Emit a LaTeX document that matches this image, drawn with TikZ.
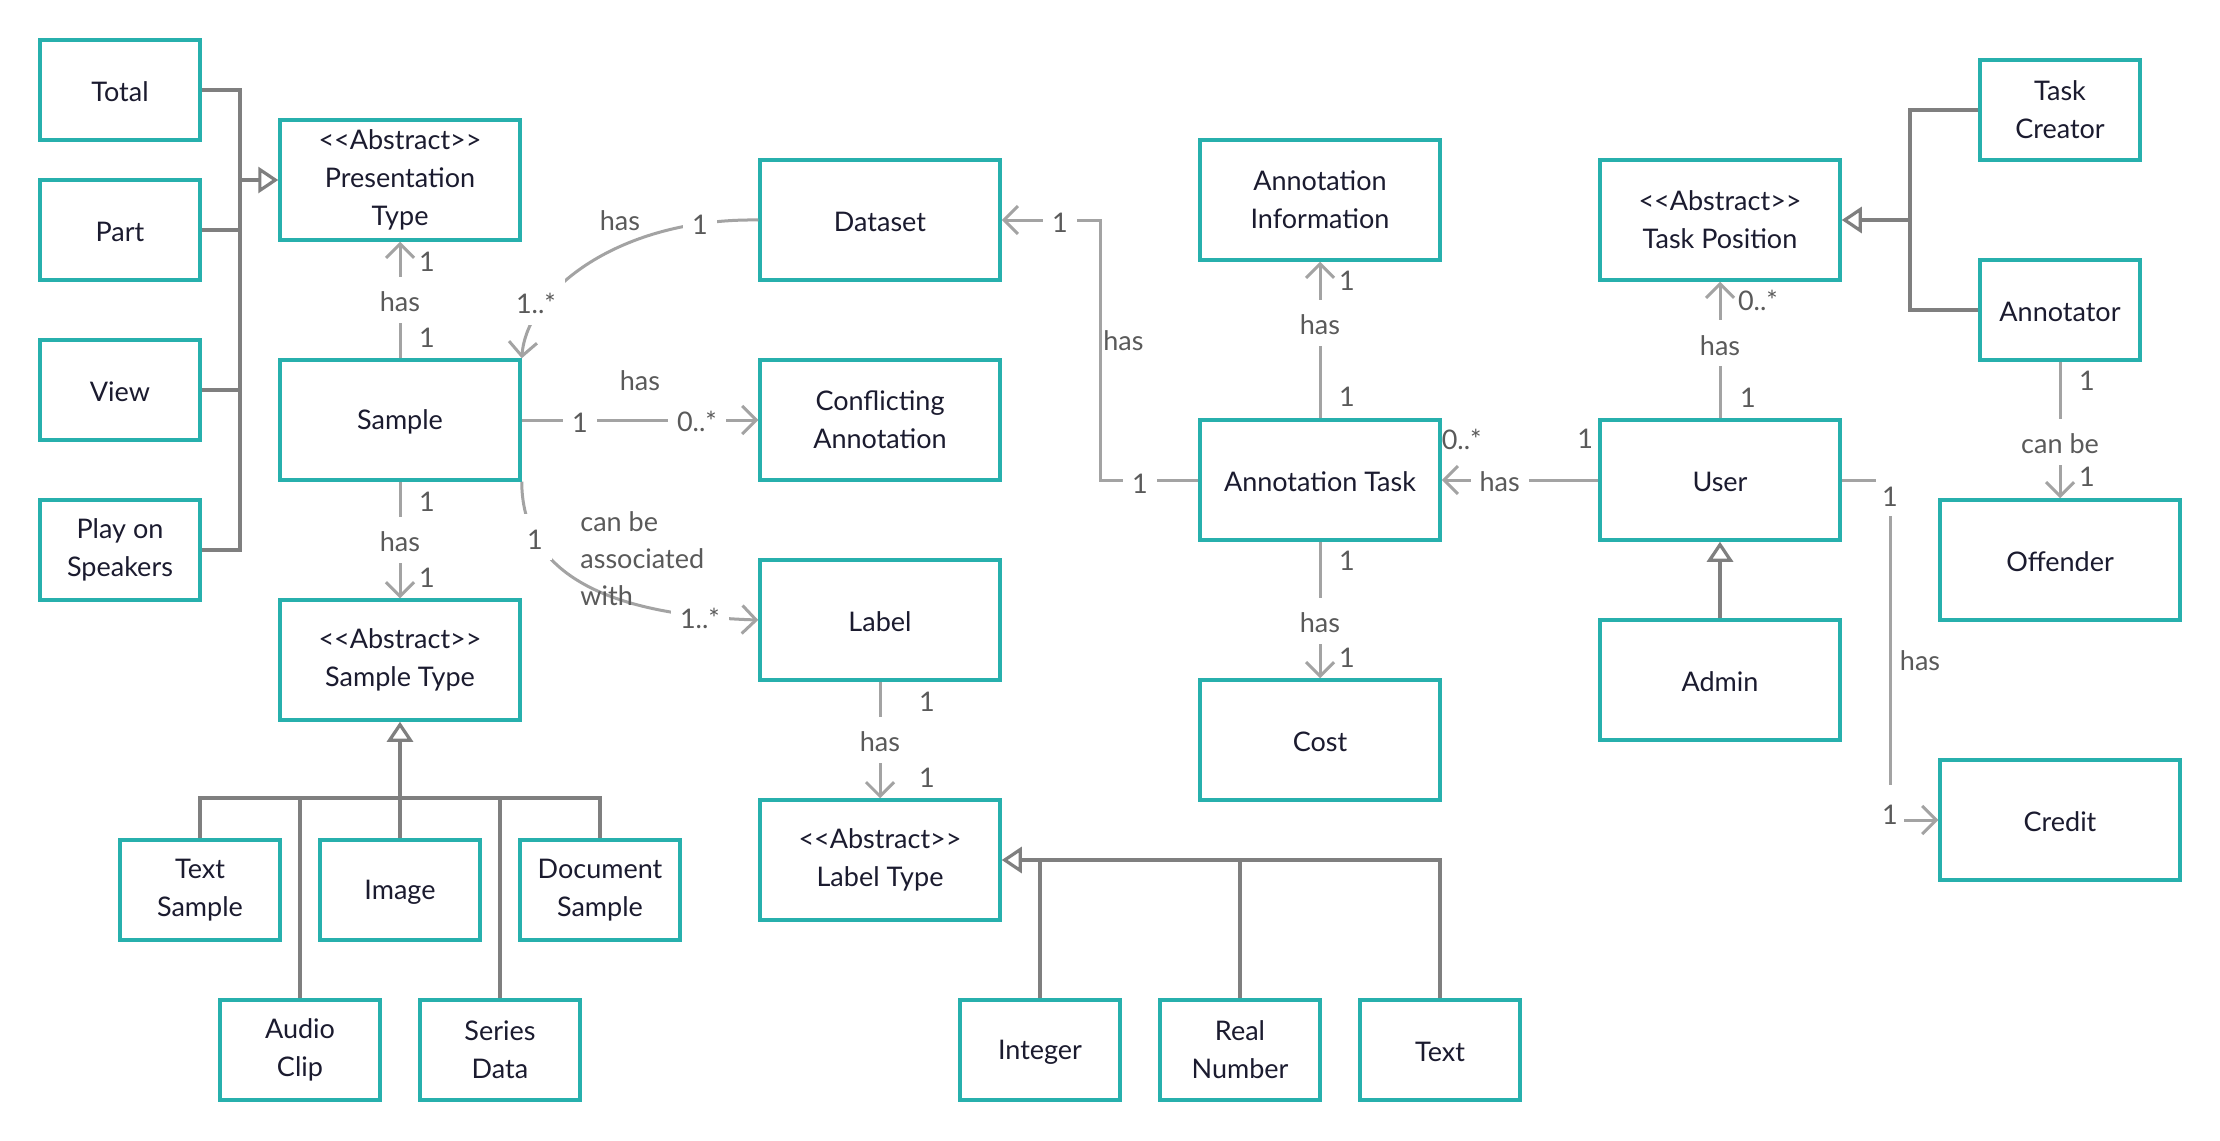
\documentclass[tikz,border=0pt]{standalone}
\usepackage{fontspec}
\setmainfont{Lato}
\usetikzlibrary{arrows.meta}

\definecolor{boxteal}{HTML}{27B0AD}
\definecolor{ink}{HTML}{1B1B2F}
\definecolor{labc}{HTML}{5A5A5A}
\definecolor{assocc}{HTML}{A3A3A3}
\definecolor{genc}{HTML}{7F7F7F}

\newcommand\ndfont{\fontsize{13.5}{19}\selectfont}
\newcommand\lbfont{\fontsize{13.5}{18.5}\selectfont}
% taller first line: sets the text a little lower inside its node
\newcommand\lowerfirst{\rule{0pt}{12pt}}

\begin{document}
\begin{tikzpicture}[x=0.5pt,y=-0.5pt,
  box/.style={draw=boxteal, line width=1.75pt, fill=white, text=ink, font=\ndfont, align=center, inner sep=2pt,
              execute at begin node=\lowerfirst},
  big/.style={box, minimum width=120pt, minimum height=60pt},
  small/.style={box, minimum width=80pt, minimum height=50pt},
  gen/.style={draw=genc, line width=1.6pt},
  genarrow/.style={gen, -{Triangle[length=10pt,width=13pt,fill=white]}},
  assoc/.style={draw=assocc, line width=1.5pt, -{Straight Barb[length=7pt,width=14pt]}},
  onl/.style={fill=white, text=labc, font=\lbfont, inner xsep=4.5pt, inner ysep=5.5pt,
              execute at begin node=\lowerfirst},
  multlab/.style={text=labc, font=\lbfont, inner sep=1pt},
]
% canvas
\fill[white] (0,0) rectangle (2220,1140);
\useasboundingbox (0,0) rectangle (2220,1140);

% ---- classes ----
\node[small] (total)   at (120,90)  {Total};
\node[small] (part)    at (120,230) {Part};
\node[small] (view)    at (120,390) {View};
\node[small] (play)    at (120,550) {Play on\\Speakers};
\node[big]   (pres)    at (400,180) {<{}<Abstract>{}>\\Presentation\\Type};
\node[big]   (sample)  at (400,420) {Sample};
\node[big]   (stype)   at (400,660) {<{}<Abstract>{}>\\Sample Type};
\node[small] (tsample) at (200,890) {Text\\Sample};
\node[small] (image)   at (400,890) {Image};
\node[small] (doc)     at (600,890) {Document\\Sample};
\node[small] (audio)   at (300,1050) {Audio\\Clip};
\node[small] (series)  at (500,1050) {Series\\Data};

\node[big]   (dataset)  at (880,220) {Dataset};
\node[big]   (conflict) at (880,420) {Conflicting\\Annotation};
\node[big]   (label)    at (880,620) {Label};
\node[big]   (ltype)    at (880,860) {<{}<Abstract>{}>\\Label Type};
\node[small] (integer)  at (1040,1050) {Integer};
\node[small] (real)     at (1240,1050) {Real\\Number};
\node[small] (txt)      at (1440,1050) {Text};

\node[big]   (ainfo) at (1320,200) {Annotation\\Information};
\node[big]   (atask) at (1320,480) {Annotation Task};
\node[big]   (cost)  at (1320,740) {Cost};

\node[big]   (tpos)      at (1720,220) {<{}<Abstract>{}>\\Task Position};
\node[big]   (user)      at (1720,480) {User};
\node[big]   (admin)     at (1720,680) {Admin};
\node[small] (tcreator)  at (2060,110) {Task\\Creator};
\node[small] (annotator) at (2060,310) {Annotator};
\node[big]   (offender)  at (2060,560) {Offender};
\node[big]   (credit)    at (2060,820) {Credit};

% ---- generalisations ----
\coordinate (pbus) at (240,180);
\draw[gen] (total.east) -| (pbus |- play.east) -- (play.east);
\draw[gen] (part.east) -- (part.east -| pbus);
\draw[gen] (view.east) -- (view.east -| pbus);
\draw[genarrow] (pbus) -- (pres.west);

\coordinate (sbus) at (400,798);
\draw[gen] (tsample.north) |- (sbus) -| (doc.north);
\draw[genarrow] (image.north) -- (stype.south);
\draw[gen] (audio.north) -- (audio.north |- sbus);
\draw[gen] (series.north) -- (series.north |- sbus);

\draw[genarrow] (txt.north) |- (ltype.east);
\draw[gen] (real.north) -- (real.north |- ltype.east);
\draw[gen] (integer.north) -- (integer.north |- ltype.east);

\coordinate (tbus) at (1910,220);
\draw[gen] (tcreator.west) -| (tbus |- annotator.west) -- (annotator.west);
\draw[genarrow] (tbus) -- (tpos.east);

\draw[genarrow] (admin.north) -- (user.south);

% ---- associations ----
\draw[assoc] (sample.north) -- node[onl]{has} (pres.south);
\node[multlab] at ([shift={(27,20)}]pres.south) {1};
\node[multlab] at ([shift={(27,-20)}]sample.north) {1};

\draw[assoc] (dataset.west) .. controls (620,218) and (527,290) .. (sample.north east);
\node[onl] at (700,222) {1};
\node[onl] at (536,302) {1..*};
\node[multlab] at (620,221) {has};

\draw[assoc] (sample.east) -- (conflict.west);
\node[onl] at (580,420) {1};
\node[onl] at (697,420) {0..*};
\node[multlab] at (640,381) {has};

\draw[assoc] (sample.south east) .. controls (522,570) and (600,615) .. (label.west);
\node[onl] at (535,537) {1};
\node[onl] at (700,617) {1..*};
\node[multlab, align=left, anchor=west] at (578,559) {can be\\associated\\with};

\draw[assoc] (sample.south) -- node[onl]{has} (stype.north);
\node[multlab] at ([shift={(27,20)}]sample.south) {1};
\node[multlab] at ([shift={(27,-20)}]stype.north) {1};

\draw[assoc] (label.south) -- node[onl]{has} (ltype.north);
\node[multlab] at ([shift={(47,20)}]label.south) {1};
\node[multlab] at ([shift={(47,-20)}]ltype.north) {1};

\coordinate (dcorner) at (1100,220);
\draw[assoc] (atask.west) -| (dcorner) -- (dataset.east);
\node[onl] at (1060,220) {1};
\node[onl] at (1140,481) {1};
\node[multlab, anchor=west] at (1101,341) {has};

\draw[assoc] (atask.north) -- node[onl,pos=0.61]{has} (ainfo.south);
\node[multlab] at ([shift={(27,19)}]ainfo.south) {1};
\node[multlab] at ([shift={(27,-21)}]atask.north) {1};

\draw[assoc] (atask.south) -- node[onl,pos=0.58]{has} (cost.north);
\node[multlab] at ([shift={(27,19)}]atask.south) {1};
\node[multlab] at ([shift={(27,-20)}]cost.north) {1};

\draw[assoc] (user.west) -- node[onl,pos=0.63]{has} (atask.east);
\node[multlab] at ([shift={(20,-41)}]atask.east) {0..*};
\node[multlab] at ([shift={(-13,-41)}]user.west) {1};

\draw[assoc] (user.north) -- node[onl,pos=0.55]{has} (tpos.south);
\node[multlab] at ([shift={(38,19)}]tpos.south) {0..*};
\node[multlab] at ([shift={(28,-20)}]user.north) {1};

\coordinate (ucorner) at (1890,650);
\draw[assoc] (user.east) -| (ucorner) |- (credit.west);
\node[onl, minimum width=14pt, minimum height=22pt, inner sep=0pt] at (1890,494) {1};
\node[onl, minimum width=14pt, minimum height=27pt, inner sep=0pt] at (1890,812) {1};
\node[multlab] at (1920,661) {has};

\draw[assoc] (annotator.south) -- node[onl,pos=0.586]{can be} (offender.north);
\node[multlab] at ([shift={(27,19)}]annotator.south) {1};
\node[multlab] at ([shift={(27,-21)}]offender.north) {1};
\end{tikzpicture}
\end{document}
